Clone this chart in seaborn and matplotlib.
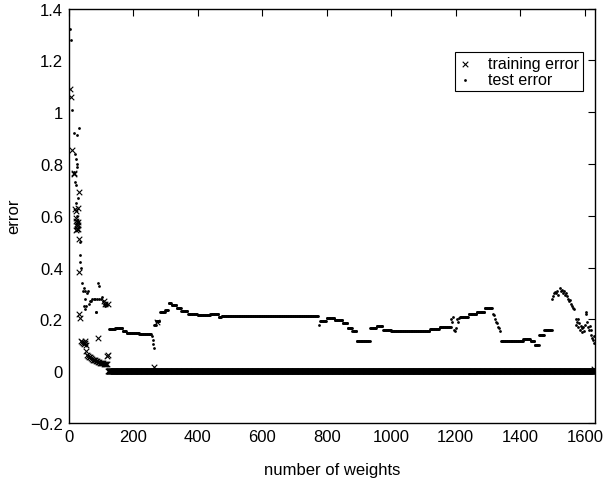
import numpy as np
import pandas as pd
import matplotlib
matplotlib.use("Agg")
import matplotlib.pyplot as plt
import seaborn as sns

# training error, scattered points before it settles at zero
train_x = [6, 8, 10, 16, 18, 20, 22, 30, 32, 22, 24, 25, 26, 27, 28, 29, 30, 24,
           33, 34, 34, 37, 39, 42, 45, 48, 50, 52, 55, 53, 57, 60, 63, 66, 69,
           72, 75, 78, 81, 84, 87, 90, 92, 94, 97, 100, 103, 106, 109, 112, 115,
           118, 109, 113, 122, 119, 123, 275, 265, 1630]
train_err = [1.09, 1.06, 0.855, 0.765, 0.76, 0.625, 0.617, 0.628, 0.69, 0.59, 0.58,
             0.57, 0.56, 0.55, 0.575, 0.565, 0.55, 0.545, 0.51, 0.384, 0.22, 0.204,
             0.118, 0.112, 0.11, 0.105, 0.115, 0.108, 0.1, 0.076, 0.063, 0.058,
             0.055, 0.054, 0.05, 0.048, 0.045, 0.044, 0.042, 0.04, 0.038, 0.037,
             0.13, 0.035, 0.033, 0.032, 0.03, 0.03, 0.029, 0.028, 0.028, 0.027,
             0.27, 0.26, 0.26, 0.06, 0.063, 0.19, 0.015, 0.01]
# training error is zero from here to the end
train_zero_start = 123
train_zero_end = 1632

# test error, scattered points
test_x = [5, 8, 10, 16, 26, 31, 20, 24, 25, 27, 16, 19, 24, 30, 22, 26, 28, 35,
          37, 35, 38, 41, 45, 48, 52, 56, 60, 52, 55, 47, 50, 62, 66, 70, 74, 78,
          81, 84, 86, 88, 91, 93, 96, 100, 104, 107, 110, 114, 117, 120,
          259, 262, 263, 264, 776,
          1187, 1190, 1193, 1196, 1199, 1202, 1205, 1208, 1211,
          1315, 1318, 1321, 1324, 1327, 1330, 1333, 1336,
          1500, 1502, 1505, 1508, 1512, 1515, 1518, 1522, 1525, 1528, 1532, 1535,
          1538, 1541, 1545, 1548, 1552, 1555, 1558, 1562, 1565, 1568,
          1572, 1574, 1576, 1578, 1580, 1582, 1585, 1588, 1590, 1592, 1595, 1598,
          1600, 1603, 1605, 1608, 1610, 1612, 1615, 1618, 1620, 1623, 1626, 1628, 1630]
test_err = [1.32, 1.28, 1.01, 0.92, 0.91, 0.94, 0.84, 0.82, 0.80, 0.79, 0.77, 0.73,
            0.72, 0.67, 0.65, 0.6, 0.58, 0.5, 0.45, 0.42, 0.40, 0.34, 0.31, 0.32,
            0.31, 0.30, 0.31, 0.28, 0.25, 0.25, 0.24, 0.26, 0.27, 0.27, 0.28, 0.28,
            0.28, 0.23, 0.23, 0.28, 0.34, 0.33, 0.28, 0.28, 0.285, 0.27, 0.26, 0.25,
            0.26, 0.255,
            0.135, 0.12, 0.105, 0.088, 0.18,
            0.2, 0.19, 0.21, 0.16, 0.155, 0.165, 0.2, 0.19, 0.205,
            0.22, 0.215, 0.2, 0.19, 0.185, 0.17, 0.165, 0.155,
            0.28, 0.29, 0.3, 0.305, 0.3, 0.31, 0.295, 0.32, 0.31, 0.315, 0.3, 0.31,
            0.295, 0.3, 0.29, 0.28, 0.27, 0.275, 0.26, 0.25, 0.245, 0.24,
            0.2, 0.18, 0.19, 0.17, 0.2, 0.185, 0.16, 0.175, 0.15, 0.165, 0.17, 0.155,
            0.18, 0.22, 0.23, 0.19, 0.17, 0.16, 0.175, 0.14, 0.16, 0.13, 0.12, 0.135, 0.11]

# test error plateaus: start, end, level
run_start = [126, 145, 168, 180, 220, 266, 272, 284, 300, 310, 320, 335, 350, 370,
             400, 440, 465, 475, 780, 800, 825, 850, 865, 880, 893, 935, 955, 975,
             1000, 1060, 1120, 1150, 1214, 1240, 1265, 1290, 1340, 1380, 1410,
             1432, 1445, 1458, 1475]
run_end = [145, 168, 180, 220, 257, 272, 284, 300, 310, 320, 335, 350, 370, 400,
           440, 465, 475, 775, 800, 825, 850, 865, 880, 893, 935, 955, 975, 1000,
           1060, 1120, 1150, 1185, 1240, 1265, 1290, 1313, 1380, 1410, 1432,
           1445, 1458, 1475, 1498]
run_level = [0.162, 0.168, 0.155, 0.148, 0.142, 0.18, 0.195, 0.228, 0.235, 0.265,
             0.255, 0.245, 0.232, 0.222, 0.218, 0.222, 0.21, 0.213, 0.195, 0.205,
             0.198, 0.185, 0.165, 0.155, 0.118, 0.165, 0.175, 0.158, 0.155, 0.157,
             0.163, 0.17, 0.21, 0.22, 0.23, 0.245, 0.115, 0.118, 0.125, 0.115,
             0.1, 0.14, 0.16]

# expand runs and zero stretch
zx = np.arange(train_zero_start, train_zero_end + 1)
train_df = pd.DataFrame({
    "weights": np.concatenate([train_x, zx]),
    "error": np.concatenate([train_err, np.zeros(len(zx))]),
})

rx, ry = [], []
for a, b, v in zip(run_start, run_end, run_level):
    xs = np.arange(a, b, 2)
    rx.append(xs)
    ry.append(np.full(len(xs), v))
test_df = pd.DataFrame({
    "weights": np.concatenate([test_x] + rx),
    "error": np.concatenate([test_err] + ry),
})

sns.set_theme(style="white")
plt.rcParams["font.family"] = ["Liberation Sans", "DejaVu Sans"]
plt.rcParams["text.color"] = "black"
plt.rcParams["axes.labelcolor"] = "black"

fig = plt.figure(figsize=(6.03, 4.85), dpi=100)
ax = fig.add_axes([0.1136, 0.1258, 0.8738, 0.8546])

sns.scatterplot(data=train_df, x="weights", y="error", marker="x", color="black",
                s=16, linewidth=0.8, label="training error", ax=ax)
sns.scatterplot(data=test_df, x="weights", y="error", marker="o", color="black",
                s=4, linewidth=0, label="test error", ax=ax)

ax.set_xlim(0, 1633)
ax.set_ylim(-0.2, 1.4)
ax.set_xticks(range(0, 1601, 200))
ax.set_yticks(np.arange(-0.2, 1.41, 0.2))
ax.set_yticklabels(["\u22120.2", "0", "0.2", "0.4", "0.6", "0.8", "1", "1.2", "1.4"])
ax.tick_params(direction="in", top=True, right=True, length=5, width=0.8,
               labelsize=12, pad=4, color="black", labelcolor="black")
for s in ax.spines.values():
    s.set_visible(True)
    s.set_color("black")
    s.set_linewidth(1.0)

ax.set_xlabel("number of weights", fontsize=12, labelpad=13, color="black")
ax.set_ylabel("error", fontsize=12, labelpad=6, color="black")

leg = ax.legend(loc="upper right", bbox_to_anchor=(0.976, 0.895), fontsize=11.5,
                frameon=True, fancybox=False, framealpha=1, edgecolor="black",
                borderpad=0.25, labelspacing=0.05, handletextpad=1.0, handlelength=0.8,
                borderaxespad=0)
leg.get_frame().set_linewidth(0.8)
for t in leg.get_texts():
    t.set_color("black")

fig.savefig("out.png", dpi=100)
